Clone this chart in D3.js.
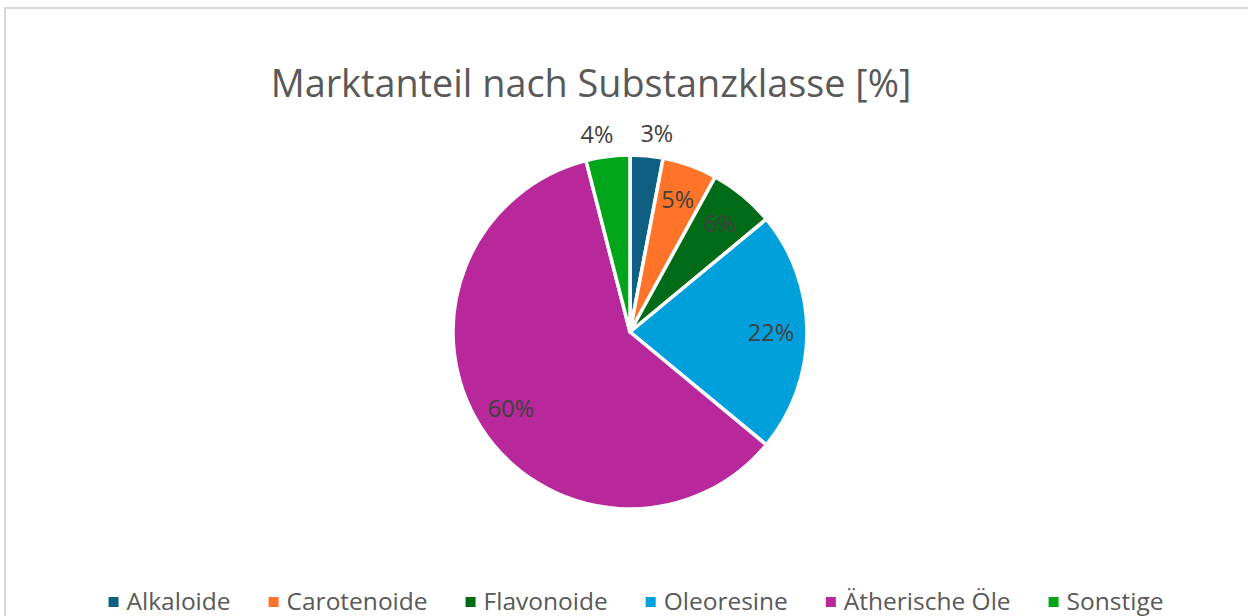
<!DOCTYPE html>
<html><head><meta charset="utf-8">
<script src="https://cdn.jsdelivr.net/npm/d3@7"></script>
<style>body{margin:0;background:#fff}svg{display:block}text{font-family:"Open Sans",sans-serif}</style>
</head><body>
<svg id="c" width="1248" height="616"></svg>
<script>
const categories = ["Alkaloide","Carotenoide","Flavonoide","Oleoresine","Ätherische Öle","Sonstige"];
const values = [3,5,6,22,60,4];
const colors = ["#0E5F82","#FF7428","#006B17","#00A0DC","#B8289A","#00A51A"];
const labelsOutside = [true,false,false,false,false,true];
const title = "Marktanteil nach Substanzklasse [%]";

const svg = d3.select("#c");
svg.append("rect").attr("x",5).attr("y",8).attr("width",1300).attr("height",700)
  .attr("fill","#fff").attr("stroke","#d9d9d9").attr("stroke-width",2);

svg.append("text").attr("x",591).attr("y",97).attr("text-anchor","middle")
  .attr("font-size",37.8).attr("fill","#595959").text(title);

const cx=630, cy=332, R=177;
const g = svg.append("g").attr("transform",`translate(${cx},${cy})`);
const pie = d3.pie().sort(null).value(d=>d);
const arcs = pie(values);
const arc = d3.arc().innerRadius(0).outerRadius(R);
g.selectAll("path").data(arcs).join("path")
  .attr("d",arc).attr("fill",(d,i)=>colors[i])
  .attr("stroke","#fff").attr("stroke-width",3.5).attr("stroke-linejoin","round");

const inArc = d3.arc().innerRadius(141).outerRadius(141);
const outArc = d3.arc().innerRadius(200).outerRadius(200);
g.selectAll("text.lbl").data(arcs).join("text").attr("class","lbl")
  .each(function(d,i){
    const p = (labelsOutside[i]?outArc:inArc).centroid(d);
    const shift = labelsOutside[i] ? (p[0]>0?8:-8) : 0;
    d3.select(this).attr("x",p[0]+shift).attr("y",p[1]);
  })
  .attr("text-anchor","middle").attr("dominant-baseline","central")
  .attr("font-size",23.5).attr("fill","#404040")
  .text(d=>d.value+"%");

// legend
const lg = svg.append("g");
const items = lg.selectAll("g").data(categories).join("g");
items.append("rect").attr("width",10).attr("height",10).attr("y",-13)
  .attr("fill",(d,i)=>colors[i]);
items.append("text").attr("x",18).attr("y",0).attr("font-size",24.5).attr("fill","#595959").text(d=>d);
let x=0;
items.each(function(){
  const w = d3.select(this).select("text").node().getComputedTextLength();
  d3.select(this).attr("transform",`translate(${x},0)`);
  x += 18 + w + 38;
});
const total = x-38;
lg.attr("transform",`translate(${636-total/2},610)`);
</script>
</body></html>
